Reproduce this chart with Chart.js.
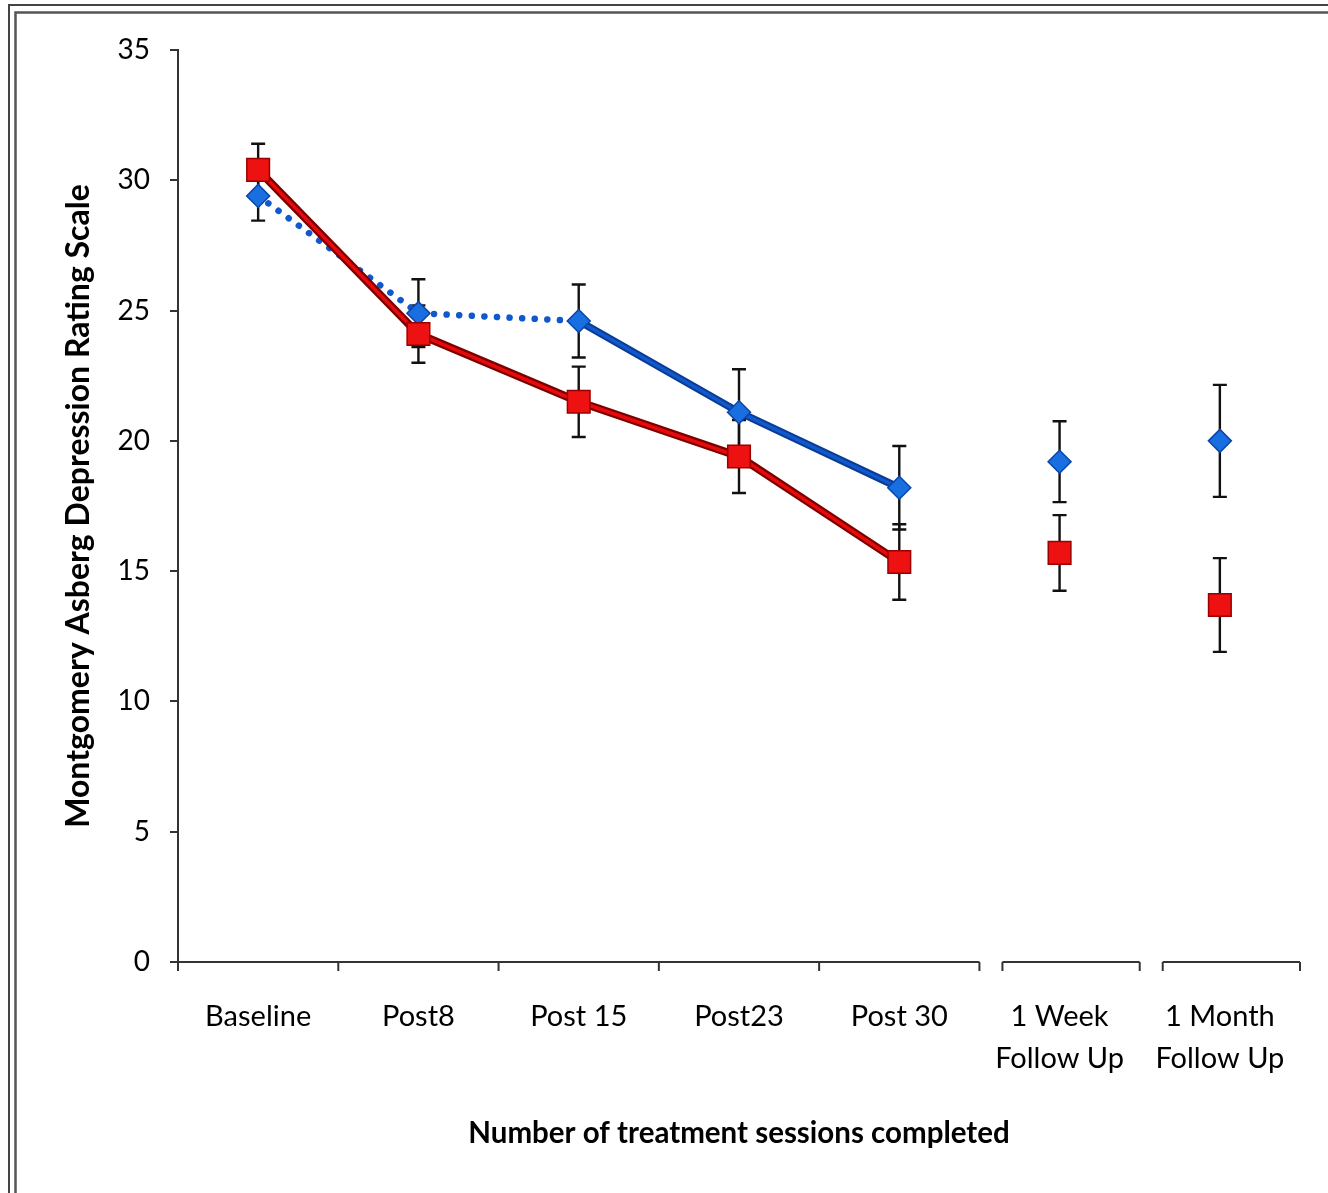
<!DOCTYPE html>
<html>
<head>
    <meta charset="UTF-8">
    <title>MADRS</title>
    <script src="https://cdn.jsdelivr.net/npm/chart.js@4.4.1/dist/chart.umd.min.js"></script>
    <style>
        body { margin: 0; background: #fff; }
    </style>
</head>
<body>
    <div style="width: 1328px; height: 1193px">
        <canvas id="chart"></canvas>
    </div>
</body>
</html>

<script>
    const labels = ['Baseline', 'Post8', 'Post 15', 'Post23', 'Post 30', ['1 Week', 'Follow Up'], ['1 Month', 'Follow Up']];

    const blueValues = [29.4, 24.9, 24.6, 21.1, 18.2, 19.2, 20.0];
    const blueErrors = [0.95, 1.3, 1.4, 1.65, 1.6, 1.55, 2.15];
    const redValues = [30.4, 24.1, 21.5, 19.4, 15.35, 15.7, 13.7];
    const redErrors = [1.0, 1.1, 1.35, 1.4, 1.45, 1.45, 1.8];

    const yTicks = [0, 5, 10, 15, 20, 25, 30, 35];
    const FONT = "Lato, 'Open Sans', sans-serif";
    const FOLLOW_UP = 5; // first index that is not joined by a line

    // error bars behind the markers
    const errorBars = {
        id: 'errorBars',
        beforeDatasetsDraw(chart) {
            const ctx = chart.ctx;
            const x = chart.scales.x, y = chart.scales.y;
            ctx.save();
            ctx.strokeStyle = '#111';
            ctx.lineWidth = 2.4;
            [[blueValues, blueErrors], [redValues, redErrors]].forEach(([vals, errs]) => {
                vals.forEach((v, i) => {
                    const px = x.getPixelForValue(i);
                    const top = y.getPixelForValue(v + errs[i]);
                    const bot = y.getPixelForValue(v - errs[i]);
                    ctx.beginPath();
                    ctx.moveTo(px, top); ctx.lineTo(px, bot);
                    ctx.moveTo(px - 7, top); ctx.lineTo(px + 7, top);
                    ctx.moveTo(px - 7, bot); ctx.lineTo(px + 7, bot);
                    ctx.stroke();
                });
            });
            ctx.restore();
        }
    };

    // broken x axis line and the frame round the picture
    const axisAndFrame = {
        id: 'axisAndFrame',
        afterDraw(chart) {
            const ctx = chart.ctx;
            const a = chart.chartArea;
            const band = (a.right - a.left) / labels.length;
            ctx.save();
            ctx.strokeStyle = '#333';
            ctx.lineWidth = 2;
            const segs = [[a.left, a.left + band * FOLLOW_UP]];
            for (let i = FOLLOW_UP; i < labels.length; i++) {
                segs.push([a.left + band * i + 23, a.left + band * (i + 1)]);
            }
            ctx.beginPath();
            segs.forEach(([s, e]) => {
                ctx.moveTo(s, a.bottom); ctx.lineTo(e, a.bottom);
                ctx.moveTo(s, a.bottom); ctx.lineTo(s, a.bottom + 9);
                ctx.moveTo(e, a.bottom); ctx.lineTo(e, a.bottom + 9);
            });
            for (let i = 1; i < FOLLOW_UP; i++) {
                const t = a.left + band * i;
                ctx.moveTo(t, a.bottom); ctx.lineTo(t, a.bottom + 9);
            }
            ctx.stroke();

            ctx.strokeStyle = '#444';
            ctx.lineWidth = 2;
            ctx.strokeRect(9, 5, 2000, 2000);
            ctx.lineWidth = 2.5;
            ctx.strokeStyle = '#555';
            ctx.strokeRect(15.5, 12.5, 2000, 2000);
            ctx.restore();
        }
    };

    const hideFollowUp = c => c.p1DataIndex >= FOLLOW_UP ? 'rgba(0,0,0,0)' : undefined;

    new Chart(document.querySelector('#chart'), {
        type: 'line',
        data: {
            labels: labels,
            datasets: [
                {
                    data: redValues,
                    borderColor: '#e80a0a',
                    borderWidth: 3.5,
                    pointStyle: 'rect',
                    pointRadius: 16,
                    pointBackgroundColor: '#ee1111',
                    pointBorderColor: '#9a0000',
                    pointBorderWidth: 1.5,
                    segment: { borderColor: hideFollowUp }
                },
                {
                    data: redValues,
                    borderColor: '#7d0000',
                    borderWidth: 8,
                    pointRadius: 0,
                    segment: { borderColor: hideFollowUp }
                },
                {
                    data: blueValues,
                    borderColor: '#1058cc',
                    borderWidth: 3.5,
                    borderCapStyle: 'round',
                    pointStyle: 'rectRot',
                    pointRadius: 11.5,
                    pointBackgroundColor: '#1a6fe0',
                    pointBorderColor: '#0a45a8',
                    pointBorderWidth: 1.5,
                    segment: {
                        borderColor: hideFollowUp,
                        borderDash: c => c.p1DataIndex <= 2 ? [0.1, 12.5] : [],
                        borderWidth: c => c.p1DataIndex <= 2 ? 6.5 : 3.5
                    }
                },
                {
                    data: blueValues,
                    borderColor: '#0a3c96',
                    borderWidth: 7.5,
                    pointRadius: 0,
                    segment: {
                        borderColor: c => (c.p1DataIndex <= 2 || c.p1DataIndex >= FOLLOW_UP) ? 'rgba(0,0,0,0)' : undefined
                    }
                }
            ]
        },
        options: {
            responsive: true,
            maintainAspectRatio: false,
            animation: false,
            layout: { padding: { top: 50, right: 28, left: 0, bottom: 0 } },
            plugins: {
                legend: { display: false },
                tooltip: { enabled: false }
            },
            scales: {
                x: {
                    type: 'category',
                    offset: true,
                    grid: { display: true, drawOnChartArea: false, drawTicks: true, tickLength: 8, color: 'rgba(0,0,0,0)' },
                    border: { display: false },
                    ticks: {
                        color: '#000',
                        font: { family: FONT, size: 29, lineHeight: 1.45 },
                        padding: 26,
                        maxRotation: 0,
                        autoSkip: false
                    },
                    title: {
                        display: true,
                        text: 'Number of treatment sessions completed',
                        color: '#000',
                        font: { family: FONT, size: 29.5, weight: 'bold' },
                        padding: { top: 0, bottom: 42 }
                    },
                    afterFit(scale) { scale.height = 231; }
                },
                y: {
                    min: 0,
                    max: 35,
                    afterBuildTicks(scale) { scale.ticks = yTicks.map(v => ({ value: v })); },
                    grid: { display: true, drawOnChartArea: false, drawTicks: true, tickLength: 8, color: '#333', lineWidth: 2 },
                    border: { display: true, color: '#333', width: 2 },
                    ticks: {
                        color: '#000',
                        font: { family: FONT, size: 28 },
                        padding: 20
                    },
                    title: {
                        display: true,
                        text: 'Montgomery Asberg Depression Rating Scale',
                        color: '#000',
                        font: { family: FONT, size: 32, weight: 'bold' },
                        padding: { top: 59, bottom: 0 }
                    },
                    afterFit(scale) { scale.width = 178; }
                }
            }
        },
        plugins: [errorBars, axisAndFrame]
    });
</script>
